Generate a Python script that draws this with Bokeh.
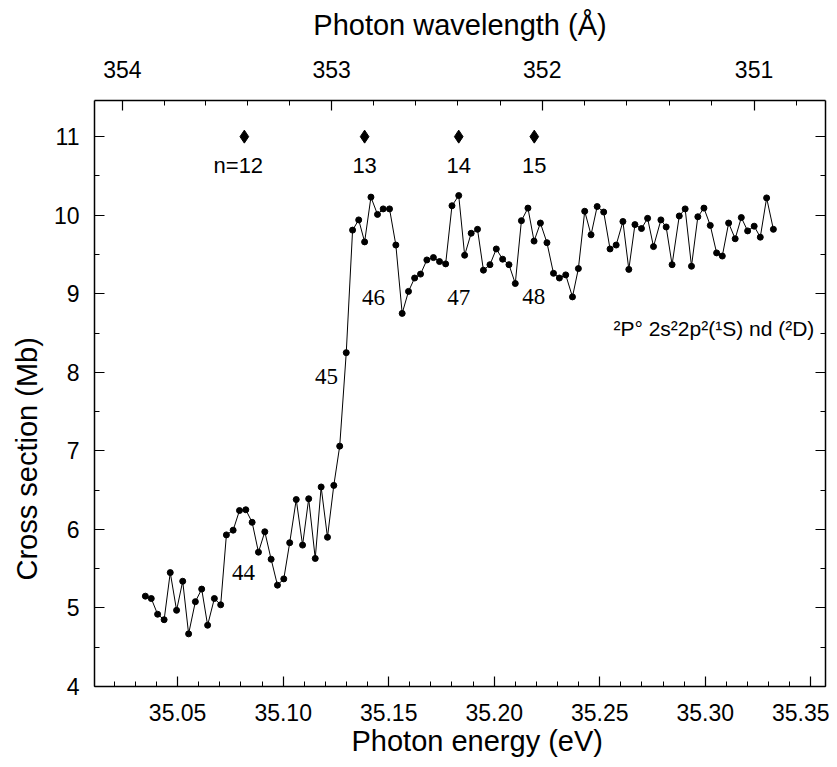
from bokeh.plotting import figure
from bokeh.models import (Range1d, LinearAxis, SingleIntervalTicker, FixedTicker,
                          CustomJSTickFormatter, ColumnDataSource, Label, Title)
from bokeh.core.properties import value
from bokeh.embed import file_html
from bokeh.resources import INLINE

# ---- data ----
energy = [35.0347, 35.0375, 35.0405, 35.0436, 35.0465, 35.0495, 35.0524, 35.0552, 35.0584, 35.0614,
          35.0642, 35.0674, 35.0704, 35.0731, 35.0763, 35.0793, 35.0823, 35.0853, 35.0883, 35.0913,
          35.0943, 35.0973, 35.1003, 35.1031, 35.1062, 35.1092, 35.1121, 35.1152, 35.1180, 35.1210,
          35.1240, 35.1268, 35.1299, 35.1329, 35.1358, 35.1386, 35.1416, 35.1447, 35.1474, 35.1504,
          35.1534, 35.1564, 35.1594, 35.1623, 35.1651, 35.1681, 35.1712, 35.1741, 35.1770, 35.1800,
          35.1832, 35.1860, 35.1891, 35.1921, 35.1949, 35.1980, 35.2010, 35.2040, 35.2070, 35.2100,
          35.2129, 35.2160, 35.2189, 35.2219, 35.2250, 35.2281, 35.2309, 35.2339, 35.2371, 35.2399,
          35.2429, 35.2459, 35.2488, 35.2519, 35.2549, 35.2578, 35.2610, 35.2638, 35.2667, 35.2698,
          35.2727, 35.2755, 35.2790, 35.2815, 35.2843, 35.2877, 35.2905, 35.2935, 35.2965, 35.2994,
          35.3024, 35.3054, 35.3081, 35.3111, 35.3142, 35.3171, 35.3201, 35.3232, 35.3261, 35.3291,
          35.3323]
cross_section = [5.15, 5.12, 4.92, 4.85, 5.45, 4.97, 5.34, 4.67, 5.08, 5.24,
                 4.78, 5.12, 5.04, 5.93, 5.99, 6.24, 6.25, 6.09, 5.71, 5.97,
                 5.62, 5.29, 5.37, 5.83, 6.38, 5.80, 6.39, 5.63, 6.54, 5.90,
                 6.56, 7.06, 8.25, 9.81, 9.94, 9.66, 10.23, 10.01, 10.08, 10.08,
                 9.62, 8.75, 9.03, 9.20, 9.25, 9.43, 9.46, 9.41, 9.38, 10.12,
                 10.25, 9.49, 9.77, 9.82, 9.30, 9.37, 9.57, 9.44, 9.37, 9.13,
                 9.93, 10.09, 9.67, 9.90, 9.65, 9.26, 9.20, 9.24, 8.96, 9.32,
                 10.05, 9.75, 10.11, 10.04, 9.57, 9.62, 9.92, 9.31, 9.88, 9.83,
                 9.96, 9.60, 9.94, 9.85, 9.37, 9.99, 10.08, 9.35, 9.98, 10.09,
                 9.87, 9.52, 9.48, 9.90, 9.70, 9.97, 9.80, 9.86, 9.72, 10.22,
                 9.82]

# Rydberg series markers (n = 12..15)
rydberg_energy = [35.0816, 35.1386, 35.1832, 35.2190]
rydberg_level = [11.0, 11.0, 11.0, 11.0]
rydberg_text = ["n=12", "13", "14", "15"]

# resonance labels
res_text = ["44", "45", "46", "47", "48"]
res_energy = [35.0812, 35.1205, 35.1428, 35.1832, 35.2187]
res_level = [5.455, 7.952, 8.958, 8.958, 8.97]

# top axis (wavelength, Angstrom)
wl_major = [354, 353, 352, 351]
wl_minor = [354.2, 354.0, 353.8, 353.6, 353.4, 353.2, 353.0, 352.8, 352.6, 352.4, 352.2, 352.0,
            351.8, 351.6, 351.4, 351.2, 351.0, 350.8]
HC = 12398.42  # eV*Angstrom

FONT = "Liberation Sans"

p = figure(width=829, height=759,
           x_range=Range1d(35.0106, 35.357), y_range=Range1d(4.0, 11.46),
           x_axis_location=None, y_axis_location=None,
           output_backend="svg", toolbar_location=None,
           min_border_left=94, min_border_right=4, min_border_top=100, min_border_bottom=73)
p.xgrid.visible = False
p.ygrid.visible = False
p.outline_line_color = None
p.background_fill_color = "white"
p.border_fill_color = "white"


def style(ax):
    ax.axis_line_width = 1.5
    ax.axis_line_color = "black"
    ax.major_tick_in = 10
    ax.major_tick_out = 0
    ax.minor_tick_in = 5
    ax.minor_tick_out = 0
    ax.major_tick_line_color = "black"
    ax.minor_tick_line_color = "black"
    ax.major_tick_line_width = 1.2
    ax.minor_tick_line_width = 1.0
    ax.major_label_text_font = FONT
    ax.major_label_text_font_size = "23px"
    ax.major_label_text_color = "black"
    ax.axis_label_text_font = FONT
    ax.axis_label_text_font_size = "29px"
    ax.axis_label_text_font_style = "normal"
    ax.axis_label_text_color = "black"


bottom = LinearAxis(ticker=SingleIntervalTicker(interval=0.05, num_minor_ticks=5))
style(bottom)
bottom.major_label_standoff = 17
bottom.formatter = CustomJSTickFormatter(code="return tick.toFixed(2);")
p.add_layout(bottom, "below")

left = LinearAxis(ticker=SingleIntervalTicker(interval=1, num_minor_ticks=2))
style(left)
left.major_label_standoff = 15
p.add_layout(left, "left")

top = LinearAxis(ticker=FixedTicker(ticks=[HC / w for w in wl_major],
                                    minor_ticks=[HC / w for w in wl_minor]),
                 axis_label="Photon wavelength (Å)")
style(top)
top.major_label_standoff = 23
top.axis_label_standoff = 17
top.formatter = CustomJSTickFormatter(code="return (12398.42 / tick).toFixed(0);")
p.add_layout(top, "above")

right = LinearAxis(ticker=SingleIntervalTicker(interval=1, num_minor_ticks=2))
style(right)
right.major_label_standoff = 0
right.formatter = CustomJSTickFormatter(code="return '';")
p.add_layout(right, "right")

# axis titles, placed slightly off-centre as in the reference
p.add_layout(Title(text="Photon energy (eV)", align="left", offset=257, standoff=0,
                   vertical_align="middle", text_font=FONT, text_font_size="29px",
                   text_font_style="normal", text_color="black"), "below")
p.add_layout(Title(text="Cross section (Mb)", align="left", offset=106, standoff=14,
                   vertical_align="middle", text_font=FONT, text_font_size="29px",
                   text_font_style="normal", text_color="black"), "left")

# data
src = ColumnDataSource(dict(x=energy, y=cross_section))
p.line("x", "y", source=src, line_color="black", line_width=1)
p.scatter("x", "y", source=src, size=6, color="black")

# Rydberg markers
ryd = ColumnDataSource(dict(x=rydberg_energy, y=rydberg_level, t=rydberg_text,
                            dx=[-6, 0, 0, 0]))
p.scatter("x", "y", source=ryd, marker="diamond", size=13, color="black")
p.text("x", "y", text="t", source=ryd, x_offset="dx", y_offset=29,
       text_align="center", text_baseline="middle",
       text_font=value(FONT), text_font_size="22px", text_color="black")

# resonance labels
res = ColumnDataSource(dict(x=res_energy, y=res_level, t=res_text))
p.text("x", "y", text="t", source=res, text_align="center", text_baseline="middle",
       text_font=value("Liberation Serif"), text_font_size="23px", text_color="black")

# configuration annotation
p.add_layout(Label(x=35.2565, y=8.56, text="²P°  2s²2p²(¹S) nd (²D)",
                   text_font=FONT, text_font_size="21px", text_color="black",
                   text_align="left", text_baseline="middle"))

open("out.html", "w").write(file_html(p, INLINE))
